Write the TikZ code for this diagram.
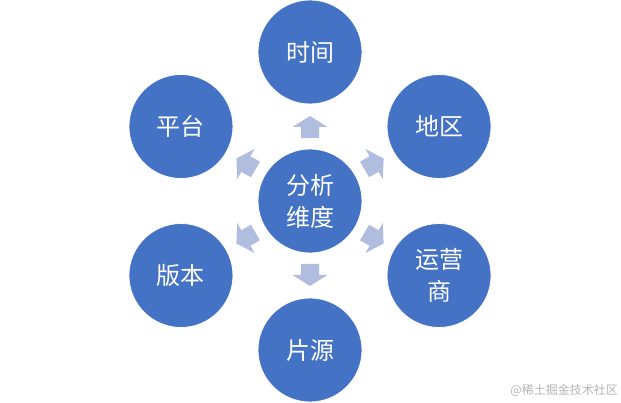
\documentclass[tikz,border=0pt]{standalone}
\usepackage{fontspec}
\newfontfamily\cjk{Noto Sans CJK SC}
\usetikzlibrary{calc}
\definecolor{cblue}{HTML}{4472C4}
\definecolor{ablue}{HTML}{B0BDDF}
\definecolor{wm}{HTML}{B4B4B4}
\tikzset{
  dim/.style={circle, fill=cblue, draw=white, line width=0.8pt, minimum size=104pt, inner sep=0pt,
    text=white, font=\cjk\fontsize{24}{32}\selectfont, align=center},
  arr/.style={fill=ablue, draw=none}
}
\begin{document}
\begin{tikzpicture}[x=1pt,y=1pt]
\useasboundingbox (0,0) rectangle (621,403);
\coordinate (o) at (310,202);
\node[dim] (c) at (o) {分析\\维度};
\node[dim] (t) at ($(o)+(90:149)$) {时间};
\node[dim] (d) at ($(o)+(30:149)$) {地区};
\node[dim] (y) at ($(o)+(-30:149)$) {运营\\商};
\node[dim] (p) at ($(o)+(-90:149)$) {片源};
\node[dim] (b) at ($(o)+(-150:149)$) {版本};
\node[dim] (g) at ($(o)+(150:149)$) {平台};
\foreach \a in {90,30,-30,-90,-150,150}{
  \begin{scope}[shift={(o)}, rotate=\a]
    \fill[arr] (63,-9) -- (74,-9) -- (74,-17.5) -- (85,0) -- (74,17.5) -- (74,9) -- (63,9) -- cycle;
  \end{scope}
}
\node[anchor=east, text=wm, font=\cjk\fontsize{12}{14}\selectfont, inner sep=0pt] (w) at (618,13) {@稀土掘金技术社区};
\end{tikzpicture}
\end{document}
